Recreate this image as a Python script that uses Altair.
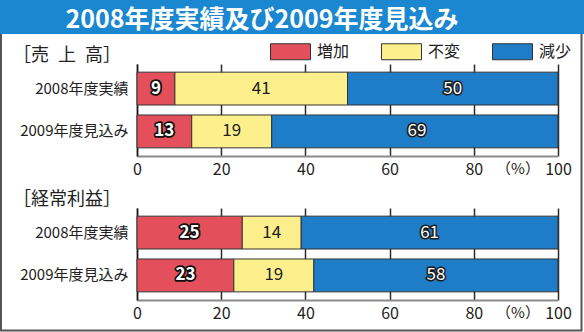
import altair as alt
import pandas as pd

# ---------------- data ----------------
categories = ["2008年度実績", "2009年度見込み"]
series = ["増加", "不変", "減少"]
colors = ["#e3505b", "#fdf08c", "#1f7cc6"]
sales_2008 = [9, 41, 50]
sales_2009 = [13, 19, 69]
profit_2008 = [25, 14, 61]
profit_2009 = [23, 19, 58]
x_ticks = [0, 20, 40, 60, 80, 100]
title_text = "2008年度実績及び2009年度見込み"
panel_titles = ["［売\u2002上\u2002高］", "［経常利益］"]
unit_label = "（%）"
unit_pos = 90.5

FONT = "Noto Sans CJK JP"
NUMFONT = "Liberation Sans Narrow, Noto Sans CJK JP"
W, H = 421, 92
ONE = pd.DataFrame({"k": [0]})


def make_df(v08, v09):
    rows = []
    for cat, vals in zip(categories, [v08, v09]):
        for i, (s, v) in enumerate(zip(series, vals)):
            rows.append({"cat": cat, "series": s, "order": i, "value": v})
    return pd.DataFrame(rows)


def panel(df, header, top):
    xscale = alt.Scale(domain=[0, 100], clamp=True, nice=False)
    xaxis = alt.Axis(values=x_ticks, grid=True, ticks=False, labelFlush=False,
                     gridColor="#2a2a2a", gridWidth=1.5, domainColor="#8a8a8a",
                     domainWidth=2, labelFont=NUMFONT, labelFontSize=16,
                     labelColor="#222", labelPadding=5, title=None)
    yaxis = alt.Axis(domainColor="#1a1a1a", domainWidth=1.5, ticks=False,
                     labelPadding=9, labelFontSize=15, labelFont=NUMFONT,
                     labelColor="#222", grid=False, title=None, labelLimit=200)
    yscale = alt.Scale(paddingInner=0.233, paddingOuter=0.19)
    y = alt.Y("cat:N", sort=categories, title=None, scale=yscale, axis=yaxis)
    y2 = alt.Y("cat:N", sort=categories, title=None)

    if top:
        legend = alt.Legend(title=None, orient="none", legendX=133, legendY=-33,
                            direction="horizontal",
                            symbolType="M-1,-0.4H1V0.4H-1Z", symbolSize=1600,
                            symbolStrokeColor="#333", symbolStrokeWidth=1,
                            symbolOpacity=1, labelFontSize=16, labelFont=FONT,
                            labelColor="#222", labelOffset=6, columnPadding=29,
                            padding=0)
    else:
        legend = None

    base = alt.Chart(df).transform_stack(
        stack="value", groupby=["cat"], as_=["v0", "v1"],
        sort=[alt.SortField("order", "ascending")],
    ).transform_calculate(mid="(datum.v0 + datum.v1) / 2")

    bars = base.mark_bar(stroke="#333", strokeWidth=1).encode(
        x=alt.X("v0:Q", scale=xscale, axis=xaxis, title=None),
        x2="v1:Q",
        y=y,
        color=alt.Color("series:N", scale=alt.Scale(domain=series, range=colors),
                        legend=legend),
    )

    def lab(filt, weight, fill, stroke=None, sw=0):
        kw = dict(fontSize=17, font=NUMFONT, fontWeight=weight, fill=fill,
                  align="center", baseline="middle")
        if stroke:
            kw.update(stroke=stroke, strokeWidth=sw, strokeJoin="round")
        return base.transform_filter(filt).mark_text(**kw).encode(
            x=alt.X("mid:Q", title=None), y=y2, text="value:Q")

    red_o = lab("datum.series == '増加'", "bold", "#111", "#111", 3.5)
    red_t = lab("datum.series == '増加'", "bold", "white")
    yel_t = lab("datum.series == '不変'", "normal", "#222")
    blu_o = lab("datum.series == '減少'", "normal", "#1a1a1a", "#1a1a1a", 3)
    blu_t = lab("datum.series == '減少'", "normal", "white")

    head = alt.Chart(ONE).mark_text(align="left", baseline="middle", fontSize=18,
                                    font=FONT, color="#222").encode(
        x=alt.value(-124), y=alt.value(-8), text=alt.value(header))
    unit = alt.Chart(ONE).mark_text(align="center", baseline="middle", fontSize=15,
                                    font=FONT, color="#222").encode(
        x=alt.X(datum=unit_pos, type="quantitative", title=None),
        y=alt.value(H + 13), text=alt.value(unit_label))

    layers = []
    if top:
        bound = alt.Chart(ONE).mark_rect(opacity=0).encode(
            x=alt.value(-137), x2=alt.value(447), y=alt.value(-64), y2=alt.value(268))
        frame = alt.Chart(ONE).mark_rect(fillOpacity=0, stroke="#555", strokeWidth=2).encode(
            x=alt.value(-136), x2=alt.value(444.5), y=alt.value(-31), y2=alt.value(266.5))
        banner = alt.Chart(ONE).mark_rect(color="#1a87d0").encode(
            x=alt.value(-137), x2=alt.value(447), y=alt.value(-64), y2=alt.value(-30))
        ttl = alt.Chart(ONE).mark_text(align="center", baseline="middle", fontSize=25,
                                       fontWeight="bold", font=FONT, color="white").encode(
            x=alt.value(125), y=alt.value(-44.5), text=alt.value(title_text))
        layers += [bound, frame, banner, ttl]
    layers = [bars] + layers + [red_o, red_t, yel_t, blu_o, blu_t, head, unit]
    return alt.layer(*layers).properties(width=W, height=H)


top = panel(make_df(sales_2008, sales_2009), panel_titles[0], True)
bottom = panel(make_df(profit_2008, profit_2009), panel_titles[1], False)

chart = alt.vconcat(top, bottom, spacing=52, bounds="flush").resolve_scale(
    color="independent").resolve_legend(color="independent").properties(
    padding=0, background="white").configure_view(strokeWidth=0)

chart.save("out.html", embed_options={"renderer": "svg", "actions": False})
